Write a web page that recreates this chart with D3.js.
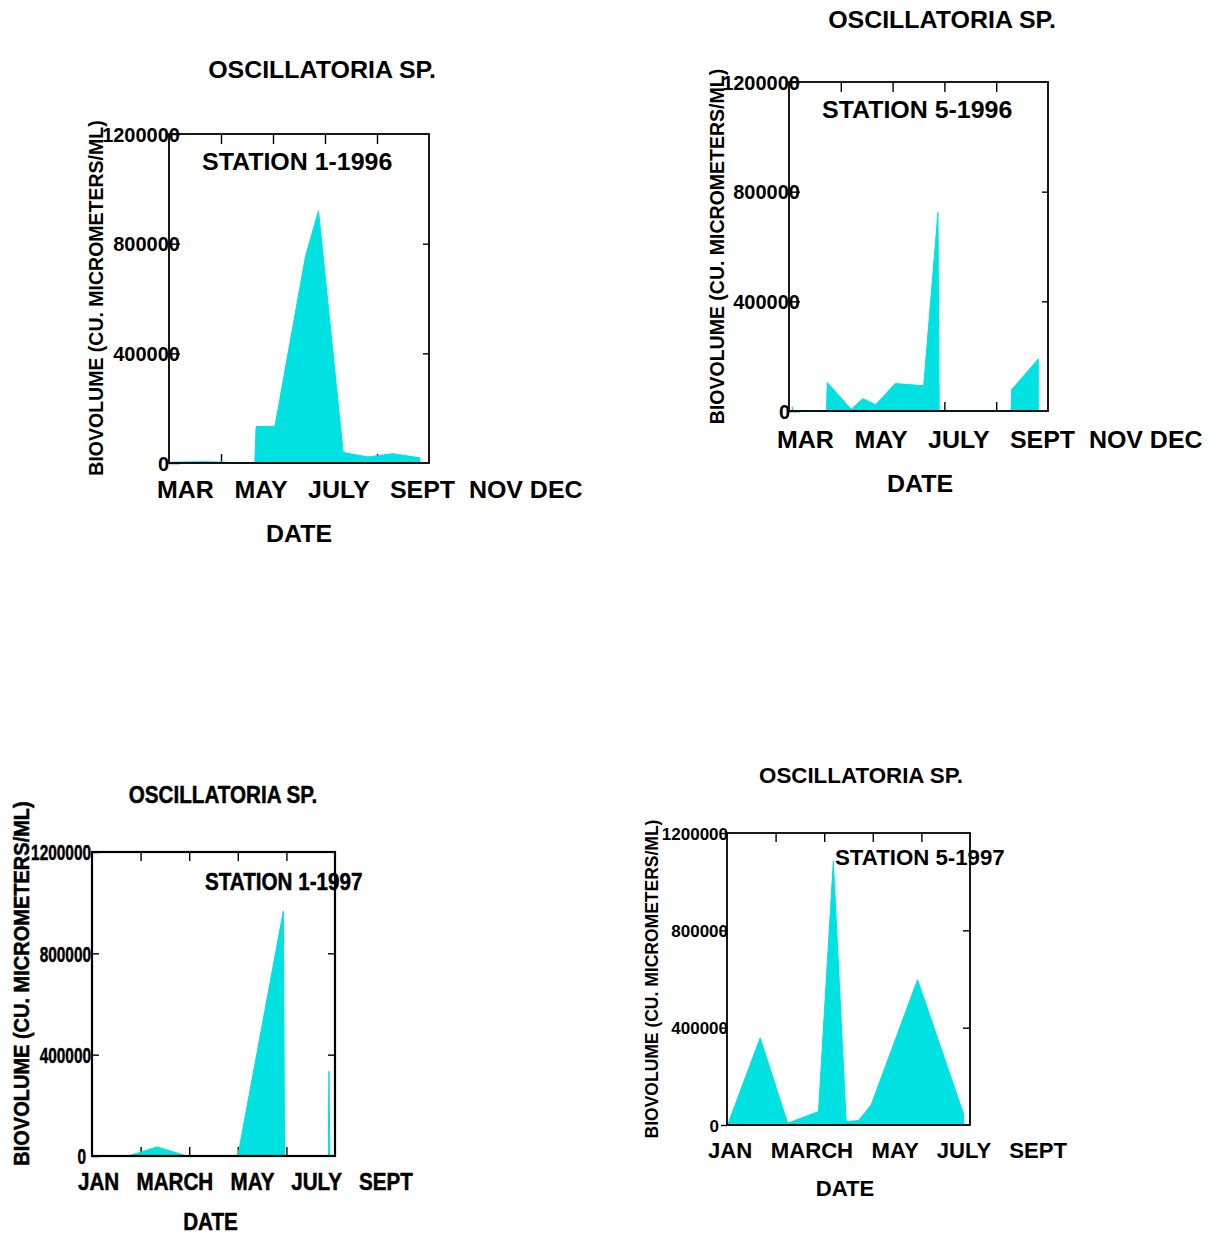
<!DOCTYPE html>
<html>
<head>
<meta charset="utf-8">
<script src="https://cdn.jsdelivr.net/npm/d3@7"></script>
<style>
  html, body { margin: 0; padding: 0; background: #fff; }
  svg { display: block; }
  text { font-family: "Liberation Sans", Arial, Helvetica, sans-serif; font-weight: bold; fill: #000; }
</style>
</head>
<body>
<svg id="chart" width="1212" height="1236"></svg>
<script>
// ---- Shared labels ----
const speciesTitle = "OSCILLATORIA SP.";
const yTitle = "BIOVOLUME (CU. MICROMETERS/ML)";
const xTitle = "DATE";
const yTickValues = [0, 400000, 800000, 1200000];
const xTickValues = [40, 80, 120, 160];        // days after start of sampling window
const months1996 = ["MAR", "MAY", "JULY", "SEPT", "NOV", "DEC"];
const months1997 = ["JAN", "MARCH", "MAY", "JULY", "SEPT"];

// ---- Station 1, 1996 ----
const st1_1996_day = [2, 29, 47, 66, 67, 81.5, 105, 115, 134, 153, 172, 193];
const st1_1996_bio = [3000, 5000, 2000, 2000, 133000, 134000, 754000, 920000, 38000, 22000, 34000, 19000];

// ---- Station 5, 1996 ----
const st5_1996_day = [2.5, 3.5, 29, 29.5, 48, 57, 67, 82, 104, 115, 116, 171.5, 172, 192.5];
const st5_1996_bio = [14000, 0, 0, 104000, 6000, 45000, 23000, 100000, 92000, 724000, 0, 0, 78000, 190000];

// ---- Station 1, 1997 ----
const st1_1997_day = [4, 30, 53.5, 78, 120, 157.5, 158.5, 194.5, 195, 195.8];
const st1_1997_bio = [0, 0, 36000, 0, 0, 967000, 0, 0, 335000, 0];

// ---- Station 5, 1997 ----
const st5_1997_day = [0.5, 27.3, 49.9, 75.3, 87.5, 98.1, 108.2, 118.6, 156.8, 194.5, 195];
const st5_1997_bio = [0, 358000, 7000, 55000, 1083000, 14000, 18000, 82000, 597000, 48000, 0];

const fillColor = "#00e1e1";

// ---- Panel layout ----
const panels = [
  {
    day: st1_1996_day, bio: st1_1996_bio, station: "STATION 1-1996", months: months1996, gaps: [3, 3, 3, 2, 1],
    frame: { l: 169, r: 429, t: 134, b: 463 }, sx: 1.04, stroke: 1.8,
    title: { x: 322, y: 78, size: 24 }, stationPos: { x: 202, y: 170, size: 24 },
    yLab: { x: 102.5, y: 298, size: 19.5 }, tick: { size: 20, end: 11, zeroShift: -11, left: -11, sx: 1 },
    row: { x: 157, y: 498, size: 24 }, date: { x: 299, y: 542, size: 24 },
    tickLen: { top: 10, bottom: 9, right: 6 }
  },
  {
    day: st5_1996_day, bio: st5_1996_bio, station: "STATION 5-1996", months: months1996, gaps: [3, 3, 3, 2, 1],
    frame: { l: 789, r: 1048, t: 82, b: 411 }, sx: 1.04, stroke: 1.8,
    title: { x: 942, y: 28, size: 24 }, stationPos: { x: 822, y: 118, size: 24 },
    yLab: { x: 724, y: 246.5, size: 19.5 }, tick: { size: 20, end: 11, zeroShift: -10, left: -11, sx: 1 },
    row: { x: 777, y: 448, size: 24 }, date: { x: 920, y: 492, size: 24 },
    tickLen: { top: 10, bottom: 9, right: 6 }
  },
  {
    day: st1_1997_day, bio: st1_1997_bio, station: "STATION 1-1997", months: months1997, gaps: [3, 3, 3, 3],
    frame: { l: 92, r: 335, t: 852, b: 1156 }, sx: 0.86, stroke: 2.2, heavy: true,
    title: { x: 223, y: 803, size: 24 }, stationPos: { x: 205, y: 890, size: 24 },
    yLab: { x: 29, y: 983.5, size: 22, sx: 0.91 }, tick: { size: 22, end: -1, zeroShift: -5, left: -7, sx: 0.7 },
    row: { x: 78, y: 1190, size: 24 }, date: { x: 210.5, y: 1230, size: 24 },
    tickLen: { top: 9, bottom: 9, right: 7 }
  },
  {
    day: st5_1997_day, bio: st5_1997_bio, station: "STATION 5-1997", months: months1997, gaps: [3, 3, 3, 3],
    frame: { l: 727, r: 970, t: 833, b: 1125 }, sx: 1.03, stroke: 1.8,
    title: { x: 861, y: 783, size: 21.7 }, stationPos: { x: 835, y: 865, size: 21.6 },
    yLab: { x: 658, y: 979, size: 17.5 }, tick: { size: 17, end: 1, zeroShift: -9, left: 6, sx: 1 },
    row: { x: 708, y: 1158, size: 21.5 }, date: { x: 845, y: 1196, size: 21.5 },
    tickLen: { top: 9, bottom: 9, right: 7 }
  }
];

const svg = d3.select("#chart");

function drawPanel(p) {
  const f = p.frame;
  const g = svg.append("g");
  const x = d3.scaleLinear().domain([0, 200]).range([f.l, f.r]);
  const y = d3.scaleLinear().domain([0, 1200000]).range([f.b, f.t]);
  const series = p.day.map((d, i) => ({ day: d, bio: p.bio[i] }));
  const heavyText = sel => { if (p.heavy) sel.attr("stroke", "#000").attr("stroke-width", 0.5); return sel; };

  // inward ticks on top, bottom and right edges
  const tickStyle = sel => { sel.select(".domain").remove(); sel.selectAll("line").attr("stroke", "#000").attr("stroke-width", 1.4); };
  g.append("g").attr("transform", `translate(0,${f.t})`)
    .call(d3.axisTop(x).tickValues(xTickValues).tickSize(-p.tickLen.top).tickFormat(""))
    .call(tickStyle);
  g.append("g").attr("transform", `translate(0,${f.b})`)
    .call(d3.axisBottom(x).tickValues(xTickValues).tickSize(-p.tickLen.bottom).tickFormat(""))
    .call(tickStyle);
  g.append("g").attr("transform", `translate(${f.r},0)`)
    .call(d3.axisRight(y).tickValues([400000, 800000]).tickSize(-p.tickLen.right).tickFormat(""))
    .call(tickStyle);

  // left axis: value labels sit on the axis line, the zero label a little further left
  const pad = -(Math.max(p.tick.left, 0) + p.tick.end);
  const left = g.append("g").attr("transform", `translate(${f.l},0)`)
    .call(d3.axisLeft(y).tickValues(yTickValues).tickSize(p.tick.left).tickPadding(pad).tickFormat(d3.format("d")))
    .call(tickStyle);
  left.selectAll(".tick text")
    .attr("font-family", null)
    .style("font-size", p.tick.size + "px")
    .attr("fill", "#000")
    .attr("dy", "0.36em")
    .attr("transform", function (d) {
      const tx = +d3.select(this).attr("x") + (d === 0 ? p.tick.zeroShift : 0);
      d3.select(this).attr("x", 0);
      return `translate(${tx},0) scale(${p.tick.sx},1)`;
    })
    .call(heavyText);
  left.attr("font-size", null).attr("font-family", null);

  // biovolume area
  const area = d3.area().x(d => x(d.day)).y0(y(0)).y1(d => y(d.bio));
  g.append("path").datum(series).attr("d", area)
    .attr("fill", fillColor).attr("stroke", fillColor).attr("stroke-width", 1);

  // text
  const scaled = (sel, px, py, sx, size, anchor) => sel
    .attr("transform", `translate(${px},${py}) scale(${sx},1)`)
    .attr("text-anchor", anchor).style("font-size", size + "px");

  g.append("text").text(speciesTitle).call(scaled, p.title.x, p.title.y, p.sx, p.title.size, "middle").call(heavyText);
  g.append("text").text(p.station).call(scaled, p.stationPos.x, p.stationPos.y, p.sx, p.stationPos.size, "start").call(heavyText);

  const row = p.months.map((m, i) => m + (i < p.gaps.length ? " ".repeat(p.gaps[i]) : "")).join("");
  g.append("text").text(row).style("white-space", "pre").attr("xml:space", "preserve")
    .call(scaled, p.row.x, p.row.y, p.sx, p.row.size, "start").call(heavyText);
  g.append("text").text(xTitle).call(scaled, p.date.x, p.date.y, p.sx, p.date.size, "middle").call(heavyText);

  g.append("text").text(yTitle)
    .attr("transform", `translate(${p.yLab.x},${p.yLab.y}) rotate(-90) scale(${p.yLab.sx || 1},1)`)
    .attr("text-anchor", "middle").style("font-size", p.yLab.size + "px").call(heavyText);

  // plot frame
  g.append("rect").attr("x", f.l).attr("y", f.t).attr("width", f.r - f.l).attr("height", f.b - f.t)
    .attr("fill", "none").attr("stroke", "#000").attr("stroke-width", p.stroke);
}

panels.forEach(drawPanel);
</script>
</body>
</html>
